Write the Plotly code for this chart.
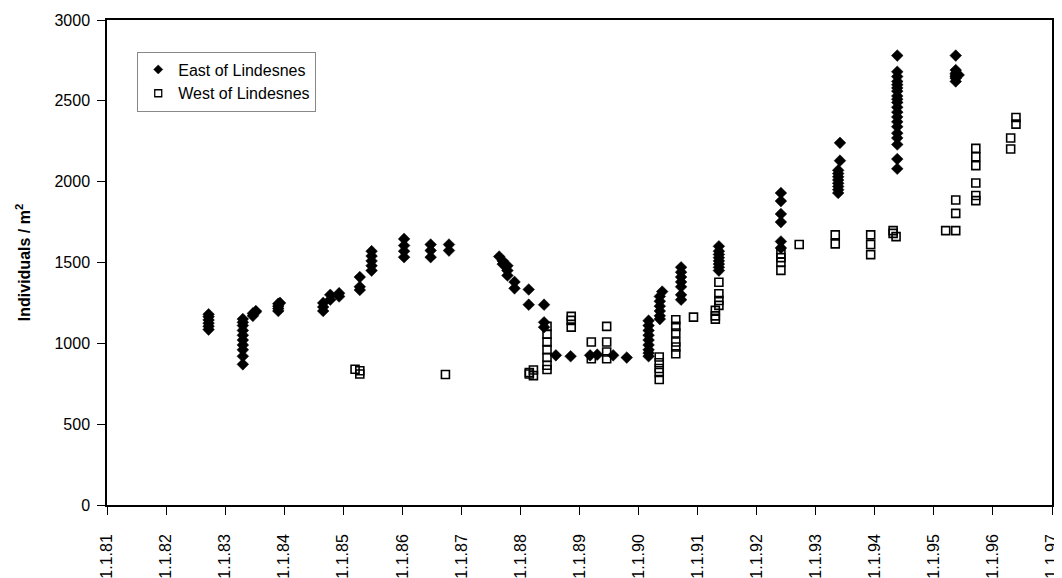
import plotly.graph_objects as go

# ---- data (decimal years, individuals / m^2) ----
east_x = (
    [1982.72] * 6
    + [1983.30] * 10
    + [1983.47, 1983.47, 1983.52, 1983.52]
    + [1983.90] * 4 + [1983.93]
    + [1984.66] * 3
    + [1984.78] * 2
    + [1984.93] * 2
    + [1985.28] * 3
    + [1985.48] * 5
    + [1986.03] * 4
    + [1986.48] * 3
    + [1986.79] * 2
    + [1987.64, 1987.70, 1987.70, 1987.78, 1987.78, 1987.78]
    + [1987.90] * 2
    + [1988.14] * 2
    + [1988.40] * 3
    + [1988.60, 1988.85, 1989.18, 1989.30, 1989.57, 1989.80]
    + [1990.17] * 9
    + [1990.36] * 6 + [1990.40]
    + [1990.72] * 7
    + [1991.36] * 8
    + [1992.41] * 6
    + [1993.41] * 2 + [1993.38] * 8
    + [1994.38] * 20
    + [1995.37] * 7 + [1995.42]
)
east_y = (
    [1085, 1105, 1125, 1145, 1165, 1180]
    + [870, 920, 960, 990, 1020, 1050, 1080, 1110, 1130, 1150]
    + [1170, 1185, 1195, 1200]
    + [1200, 1215, 1230, 1245, 1250]
    + [1200, 1225, 1250]
    + [1270, 1300]
    + [1290, 1310]
    + [1330, 1350, 1410]
    + [1450, 1480, 1510, 1540, 1570]
    + [1533, 1570, 1605, 1646]
    + [1533, 1574, 1611]
    + [1574, 1611]
    + [1537, 1510, 1490, 1480, 1450, 1420]
    + [1380, 1340]
    + [1333, 1239]
    + [1239, 1130, 1100]
    + [926, 920, 926, 930, 926, 912]
    + [920, 940, 960, 990, 1020, 1050, 1080, 1110, 1140]
    + [1150, 1170, 1200, 1230, 1260, 1290, 1320]
    + [1270, 1300, 1350, 1380, 1410, 1440, 1470]
    + [1450, 1470, 1490, 1510, 1530, 1550, 1570, 1600]
    + [1590, 1630, 1750, 1800, 1880, 1930]
    + [2240, 2130, 2070, 2050, 2030, 2010, 1990, 1970, 1950, 1930]
    + [2780, 2680, 2650, 2620, 2600, 2580, 2560, 2530, 2510, 2490,
       2460, 2430, 2400, 2370, 2340, 2300, 2270, 2230, 2140, 2080]
    + [2780, 2690, 2670, 2660, 2650, 2640, 2620, 2660]
)

west_x = (
    [1985.20, 1985.28, 1985.28]
    + [1986.73]
    + [1988.15, 1988.15, 1988.22, 1988.22]
    + [1988.45] * 7
    + [1988.86] * 3
    + [1989.20] * 2
    + [1989.46] * 4
    + [1990.35] * 5
    + [1990.63] * 6
    + [1990.93]
    + [1991.30] * 3 + [1991.36] * 4
    + [1992.41] * 4
    + [1992.72]
    + [1993.33] * 2
    + [1993.93] * 3
    + [1994.31, 1994.31, 1994.36]
    + [1995.20]
    + [1995.37] * 3
    + [1995.71] * 6
    + [1996.30] * 2
    + [1996.39] * 2
)
west_y = (
    [840, 830, 810]
    + [807]
    + [810, 820, 835, 800]
    + [838, 864, 912, 961, 1008, 1056, 1105]
    + [1100, 1142, 1167]
    + [905, 1008]
    + [905, 946, 1008, 1105]
    + [776, 820, 844, 880, 915]
    + [936, 977, 1008, 1064, 1105, 1146]
    + [1162]
    + [1150, 1170, 1204, 1235, 1265, 1307, 1378]
    + [1451, 1502, 1530, 1554]
    + [1611]
    + [1615, 1671]
    + [1549, 1611, 1671]
    + [1697, 1680, 1660]
    + [1697]
    + [1697, 1804, 1887]
    + [1883, 1914, 1992, 2099, 2154, 2206]
    + [2202, 2270]
    + [2356, 2397]
)

series_names = ["East of Lindesnes", "West of Lindesnes"]
tick_years = list(range(1981, 1998))
tick_labels = ["1.1.%02d" % (y % 100) for y in tick_years]
y_ticks = [0, 500, 1000, 1500, 2000, 2500, 3000]

FONT = "Liberation Sans, Arial, sans-serif"

diamond = dict(symbol="diamond", size=9, color="black",
               line=dict(color="black", width=0.5))
square = dict(symbol="square-open", size=8, color="black",
              line=dict(color="black", width=1.6))

fig = go.Figure()
fig.add_trace(go.Scatter(x=east_x, y=east_y, mode="markers",
                         name=series_names[0], marker=diamond,
                         showlegend=False))
fig.add_trace(go.Scatter(x=west_x, y=west_y, mode="markers",
                         name=series_names[1], marker=square,
                         showlegend=False))
# legend entries with the small legend symbols of the original
fig.add_trace(go.Scatter(x=[None], y=[None], mode="markers",
                         name=series_names[0],
                         marker=dict(diamond, size=7)))
fig.add_trace(go.Scatter(x=[None], y=[None], mode="markers",
                         name=series_names[1],
                         marker=dict(square, size=7, line=dict(color="black", width=1.3))))

# the page body adds an 8px offset, so the figure is 8px smaller
fig.update_layout(
    width=1054, height=570,
    margin=dict(l=99, r=10, t=12, b=73),
    paper_bgcolor="white", plot_bgcolor="white",
    font=dict(family=FONT, size=16, color="black"),
    showlegend=True,
    legend=dict(
        x=0.032, y=0.935, xanchor="left", yanchor="top",
        bordercolor="#888", borderwidth=1, bgcolor="white",
        font=dict(family=FONT, size=16, color="black"),
        itemwidth=30, tracegroupgap=0,
    ),
    xaxis=dict(
        range=[1981, 1997], tickmode="array",
        tickvals=tick_years, ticktext=tick_labels,
        tickangle=-90, ticks="outside", ticklen=8, tickwidth=1.2,
        tickcolor="black", showline=True, linecolor="black", linewidth=1.5,
        mirror=True, showgrid=False, zeroline=False,
        tickfont=dict(family=FONT, size=16, color="black"),
        ticklabelstandoff=13,
        automargin=False,
    ),
    yaxis=dict(
        range=[0, 3000], tickmode="array", tickvals=y_ticks,
        ticks="outside", ticklen=8, tickwidth=1.2, tickcolor="black",
        showline=True, linecolor="black", linewidth=1.5, mirror=True,
        showgrid=False, zeroline=False,
        tickfont=dict(family=FONT, size=16, color="black"),
        ticklabelstandoff=4,
        title=dict(text="<b>Individuals / m<sup>2</sup></b>",
                   font=dict(family=FONT, size=16, color="black"),
                   standoff=20),
        automargin=False,
    ),
)

fig.write_html("out.html")
